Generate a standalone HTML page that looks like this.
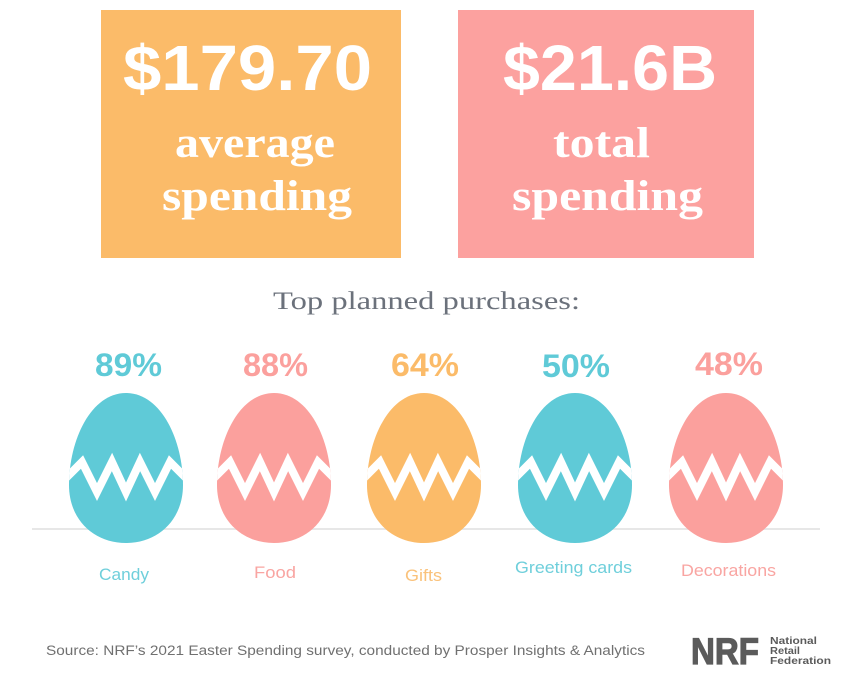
<!DOCTYPE html>
<html>
<head>
<meta charset="utf-8">
<style>
html,body{margin:0;padding:0;background:#fff;}
svg{display:block;}
</style>
</head>
<body>
<svg width="858" height="675" viewBox="0 0 858 675" xmlns="http://www.w3.org/2000/svg">
  <defs>
    <path id="egg" d="M0,393 C35,393 57,440 57,485 C57,520 32,543 0,543 C-32,543 -57,520 -57,485 C-57,440 -35,393 0,393 Z"/>
    <clipPath id="eggclip"><use href="#egg"/></clipPath>
    <g id="eggfull">
      <use href="#egg"/>
      <polyline clip-path="url(#eggclip)" points="-70,488 -44,462 -29,492 -14,462 0,492 14,462 29,492 44,462 70,488" fill="none" stroke="#ffffff" stroke-width="8" stroke-linejoin="miter"/>
    </g>
  </defs>

  <!-- Top boxes -->
  <rect x="101" y="10" width="300" height="248" fill="#fbbb69"/>
  <rect x="458" y="10" width="296" height="248" fill="#fca19f"/>

  <text x="123" y="90" font-family="Liberation Sans, sans-serif" font-weight="bold" font-size="64" fill="#ffffff" textLength="249" lengthAdjust="spacingAndGlyphs">$179.70</text>
  <text x="175" y="157" font-family="Liberation Serif, serif" font-weight="bold" font-size="43" fill="#ffffff" textLength="160" lengthAdjust="spacingAndGlyphs">average</text>
  <text x="162" y="210" font-family="Liberation Serif, serif" font-weight="bold" font-size="43" fill="#ffffff" textLength="190" lengthAdjust="spacingAndGlyphs">spending</text>

  <text x="503" y="90" font-family="Liberation Sans, sans-serif" font-weight="bold" font-size="64" fill="#ffffff" textLength="214" lengthAdjust="spacingAndGlyphs">$21.6B</text>
  <text x="553" y="157" font-family="Liberation Serif, serif" font-weight="bold" font-size="43" fill="#ffffff" textLength="97" lengthAdjust="spacingAndGlyphs">total</text>
  <text x="512" y="210" font-family="Liberation Serif, serif" font-weight="bold" font-size="43" fill="#ffffff" textLength="191" lengthAdjust="spacingAndGlyphs">spending</text>

  <!-- Title -->
  <text x="273" y="309" font-family="Liberation Serif, serif" font-size="25" fill="#6b717b" textLength="307" lengthAdjust="spacingAndGlyphs">Top planned purchases:</text>

  <!-- Percentages -->
  <g font-family="Liberation Sans, sans-serif" font-weight="bold" font-size="32">
    <text x="95" y="376" fill="#5fcad7" textLength="67" lengthAdjust="spacingAndGlyphs">89%</text>
    <text x="243" y="376" fill="#fba09d" textLength="65" lengthAdjust="spacingAndGlyphs">88%</text>
    <text x="391" y="376" fill="#fbbb69" textLength="68" lengthAdjust="spacingAndGlyphs">64%</text>
    <text x="542" y="377" fill="#5fcad7" textLength="68" lengthAdjust="spacingAndGlyphs">50%</text>
    <text x="695" y="375" fill="#fba09d" textLength="68" lengthAdjust="spacingAndGlyphs">48%</text>
  </g>

  <!-- Ground line -->
  <line x1="32" y1="529" x2="820" y2="529" stroke="#e7e7e7" stroke-width="2"/>

  <!-- Eggs -->
  <g transform="translate(126,0)" fill="#5fcad7"><use href="#eggfull"/></g>
  <g transform="translate(274,0)" fill="#fba09d"><use href="#eggfull"/></g>
  <g transform="translate(424,0)" fill="#fbbb69"><use href="#eggfull"/></g>
  <g transform="translate(575,0)" fill="#5fcad7"><use href="#eggfull"/></g>
  <g transform="translate(726,0)" fill="#fba09d"><use href="#eggfull"/></g>

  <!-- Labels -->
  <g font-family="Liberation Sans, sans-serif" font-size="17">
    <text x="99" y="580" fill="#6fcfdb" textLength="50" lengthAdjust="spacingAndGlyphs">Candy</text>
    <text x="254" y="578" fill="#f9a5a2" textLength="42" lengthAdjust="spacingAndGlyphs">Food</text>
    <text x="405" y="581" fill="#fac27b" textLength="37" lengthAdjust="spacingAndGlyphs">Gifts</text>
    <text x="515" y="573" fill="#6fcfdb" textLength="117" lengthAdjust="spacingAndGlyphs">Greeting cards</text>
    <text x="681" y="576" fill="#f9a5a2" textLength="95" lengthAdjust="spacingAndGlyphs">Decorations</text>
  </g>

  <!-- Footer -->
  <text x="46" y="655" font-family="Liberation Sans, sans-serif" font-size="13.5" fill="#707070" textLength="599" lengthAdjust="spacingAndGlyphs">Source: NRF’s 2021 Easter Spending survey, conducted by Prosper Insights &amp; Analytics</text>

  <text x="691" y="664" font-family="Liberation Sans, sans-serif" font-weight="bold" font-size="37" fill="#5b5b5b" stroke="#5b5b5b" stroke-width="1.2" textLength="68" lengthAdjust="spacingAndGlyphs">NRF</text>
  <g font-family="Liberation Sans, sans-serif" font-weight="bold" font-size="10" fill="#5b5b5b">
    <text x="770" y="644" textLength="47" lengthAdjust="spacingAndGlyphs">National</text>
    <text x="770" y="654" textLength="30" lengthAdjust="spacingAndGlyphs">Retail</text>
    <text x="770" y="664" textLength="61" lengthAdjust="spacingAndGlyphs">Federation</text>
  </g>
</svg>
</body>
</html>
